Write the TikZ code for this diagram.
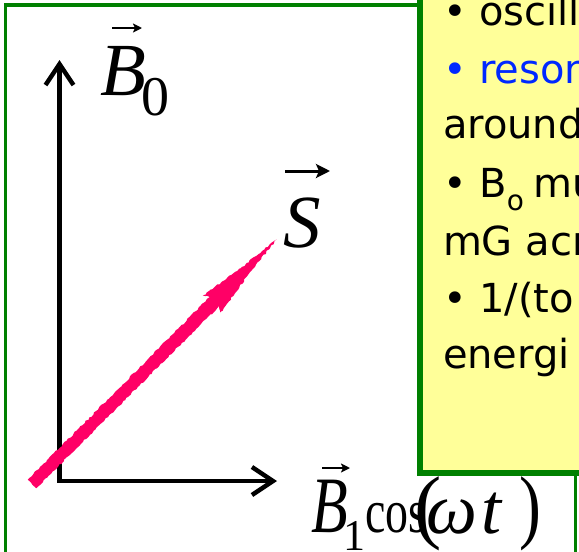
\documentclass[tikz,border=0pt]{standalone}
\usepackage{graphicx}
\usepackage{fontspec}
\setmainfont{Liberation Serif}
\newfontfamily\comic{DejaVu Sans}
\usetikzlibrary{arrows.meta,decorations.pathmorphing,calc}
\definecolor{frameGreen}{RGB}{0,128,0}
\definecolor{noteYellow}{RGB}{255,255,153}
\definecolor{spinPink}{RGB}{255,0,102}
\definecolor{noteBlue}{RGB}{0,40,255}
\tikzset{
  lbl/.style={inner sep=0pt, outer sep=0pt, anchor=base west},
  notetext/.style={lbl, font=\comic\fontsize{40}{40}\selectfont},
  axisline/.style={line width=4.5pt, black, line join=miter,
    arrows={Straight Barb[length=21pt,width=28pt]-Straight Barb[length=21pt,width=28pt]}},
  vecsmall/.style={line width=2pt, -{Stealth[length=9pt,width=9pt,inset=2pt]}},
  vecbig/.style={line width=3pt, -{Stealth[length=14pt,width=14pt,inset=3pt]}},
}
\begin{document}
\begin{tikzpicture}[x=1pt,y=-1pt]
\useasboundingbox (0,0) rectangle (579,552);
\clip (0,0) rectangle (579,552);
\fill[white] (0,0) rectangle (579,552);
% outer frame
\draw[frameGreen, line width=3.5pt] (5.5,5) rectangle (575.5,570);
% note box
\draw[frameGreen, line width=6pt, fill=noteYellow] (420,-20) rectangle (610,473);
\node[notetext] (t1) at (443,25) {• oscill};
\node[notetext, text=noteBlue] (t2) at (443,83) {• reson};
\node[notetext] (t3) at (443,138) {around};
\node[notetext] (t4) at (443,197) {• B\raisebox{-13pt}{\fontsize{28}{28}\selectfont o}\hspace{10pt}mu};
\node[notetext] (t5) at (443,255) {mG acr};
\node[notetext] (t6) at (443,312) {• 1/(to};
\node[notetext] (t7) at (443,368) {energi};
% axes
\coordinate (O) at (59.5,481);
\coordinate (Ytip) at (59.5,60);
\coordinate (Xtip) at (277,481);
\draw[axisline] (Ytip) -- (O) -- (Xtip);
% spin vector
\pgfmathsetseed{7}
\begin{scope}[shift={(32,484)}, rotate=45]
\fill[spinPink, decorate, decoration={random steps, segment length=2.5pt, amplitude=0.8pt}]
  (0,-6) -- (258,-6.5) -- (254,-12.5) -- (300,-5) -- (346,0) -- (300,5) -- (254,12.5) -- (258,6.5) -- (0,6) -- cycle;
\end{scope}
% B0 label
\node[lbl, font=\fontsize{75}{75}\selectfont\itshape] (b0) at (100,95) {B};
\node[lbl, font=\fontsize{56}{56}\selectfont] (b0sub) at (141,115) {0};
\coordinate (b0a) at (112,28);
\coordinate (b0b) at (142,28);
\draw[vecsmall] (b0a) -- (b0b);
% S label
\node[lbl, font=\fontsize{75}{75}\selectfont\itshape] (s) at (283,247) {S};
\coordinate (sa) at (285,171);
\coordinate (sb) at (330,171);
\draw[vecbig] (sa) -- (sb);
% B1 cos(wt) label (vertically stretched in the original)
\node[lbl, font=\fontsize{80}{80}\selectfont\itshape] (b1) at (311,532) {\scalebox{0.75}[1]{B}};
\node[lbl, font=\fontsize{44}{44}\selectfont] (b1sub) at (343,550) {1};
\node[lbl, font=\fontsize{62}{62}\selectfont] (cosw) at (365,532) {\scalebox{0.74}[1]{cos}};
\node[lbl, font=\fontsize{82}{82}\selectfont] (lpar) at (414,533) {(};
\node[lbl, font=\fontsize{72}{72}\selectfont\itshape] (om) at (426,533) {ω};
\node[lbl, font=\fontsize{72}{72}\selectfont\itshape] (tt) at (481,533) {t};
\node[lbl, font=\fontsize{82}{82}\selectfont] (rpar) at (519,533) {\scalebox{0.8}[1]{)}};
\coordinate (b1a) at (322,468);
\coordinate (b1b) at (350,468);
\draw[vecsmall] (b1a) -- (b1b);
\end{tikzpicture}
\end{document}
